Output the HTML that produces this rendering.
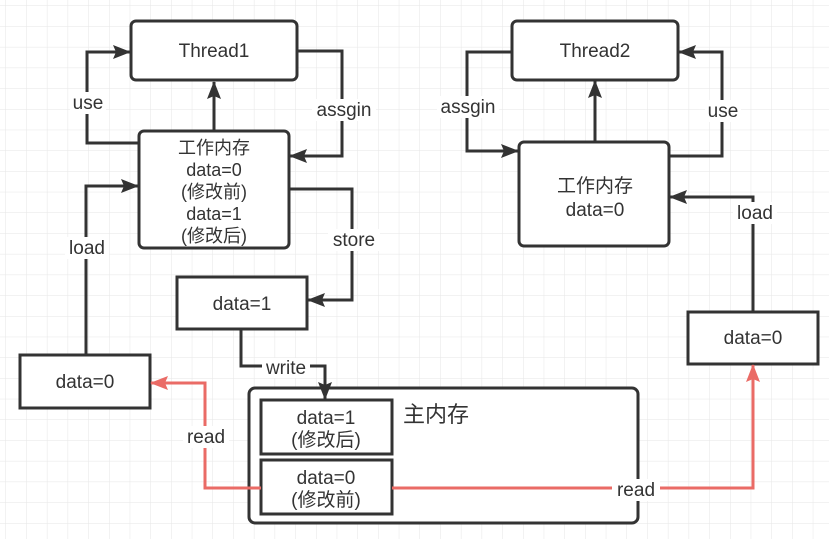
<!DOCTYPE html>
<html><head><meta charset="utf-8"><style>
html,body{margin:0;padding:0;background:#fff;}
svg text{font-family:"Liberation Sans","Noto Sans CJK SC",sans-serif;fill:#333;}
</style></head><body>
<svg width="829" height="539" viewBox="0 0 829 539" xmlns="http://www.w3.org/2000/svg">
<defs>
<pattern id="g" width="20.7" height="20.7" patternUnits="userSpaceOnUse" x="6" y="6">
<path d="M20.7 0V20.7H0" fill="none" stroke="#e6e6e6" stroke-width="1"/>
</pattern>
<marker id="a" markerWidth="18" markerHeight="14" refX="17" refY="7" orient="auto" markerUnits="userSpaceOnUse" viewBox="0 0 18 14"><path d="M0 0L18 7L0 14L3 7Z" fill="#333"/></marker>
<marker id="r" markerWidth="18" markerHeight="14" refX="17" refY="7" orient="auto" markerUnits="userSpaceOnUse" viewBox="0 0 18 14"><path d="M0 0L18 7L0 14L3 7Z" fill="#ea6b66"/></marker>
</defs>
<rect width="829" height="539" fill="url(#g)"/>
<g fill="#fff" stroke="#333" stroke-width="3">
<rect x="131" y="21" width="166" height="59" rx="5"/>
<rect x="139" y="131" width="150" height="117" rx="5"/>
<rect x="177" y="277" width="130" height="52"/>
<rect x="20" y="355" width="130" height="53"/>
<rect x="249" y="388" width="389" height="135" rx="6"/>
<rect x="261" y="400" width="131" height="54"/>
<rect x="261" y="460" width="131" height="54"/>
<rect x="512" y="21" width="166" height="59" rx="5"/>
<rect x="519" y="142" width="150" height="104" rx="5"/>
<rect x="688" y="312" width="130" height="52"/>
</g>
<g fill="none" stroke="#333" stroke-width="3">
<path d="M214 130V82" marker-end="url(#a)"/>
<path d="M139 143H87V52H130" marker-end="url(#a)"/>
<path d="M297 51H342V156H290" marker-end="url(#a)"/>
<path d="M86 355V186H138" marker-end="url(#a)"/>
<path d="M289 189H352V300H308" marker-end="url(#a)"/>
<path d="M241 329V366H325V399" marker-end="url(#a)"/>
<path d="M595 142V81" marker-end="url(#a)"/>
<path d="M512 52H467V151H518" marker-end="url(#a)"/>
<path d="M669 156H722V52H679" marker-end="url(#a)"/>
<path d="M753 312V197H670" marker-end="url(#a)"/>
</g>
<g fill="none" stroke="#ea6b66" stroke-width="3">
<path d="M261 488H205V383H151" marker-end="url(#r)"/>
<path d="M392 488H753V365" marker-end="url(#r)"/>
</g>
<g fill="#fff">
<rect x="70" y="92" width="36" height="22"/>
<rect x="312" y="99" width="64" height="22"/>
<rect x="65" y="237" width="44" height="22"/>
<rect x="328" y="229" width="52" height="22"/>
<rect x="262" y="358" width="48" height="20"/>
<rect x="183" y="426" width="46" height="22"/>
<rect x="612" y="479" width="48" height="22"/>
<rect x="437" y="96" width="62" height="22"/>
<rect x="705" y="100" width="36" height="22"/>
<rect x="733" y="202" width="44" height="22"/>
</g>
<g font-size="19" text-anchor="middle">
<text x="214" y="57">Thread1</text>
<text x="595" y="57">Thread2</text>
<text x="242" y="310">data=1</text>
<text x="85" y="388">data=0</text>
<text x="753" y="344">data=0</text>
<text x="88" y="109">use</text>
<text x="344" y="116">assgin</text>
<text x="87" y="254">load</text>
<text x="354" y="246">store</text>
<text x="286" y="374">write</text>
<text x="206" y="443">read</text>
<text x="636" y="496">read</text>
<text x="468" y="113">assgin</text>
<text x="723" y="117">use</text>
<text x="755" y="219">load</text>
<text x="326" y="424">data=1</text>
<text x="326" y="446">(修改后)</text>
<text x="326" y="484">data=0</text>
<text x="326" y="506">(修改前)</text>
<text x="595" y="192">工作内存</text>
<text x="595" y="216">data=0</text>
</g>
<g font-size="18" text-anchor="middle">
<text x="214" y="154">工作内存</text>
<text x="214" y="176">data=0</text>
<text x="214" y="198">(修改前)</text>
<text x="214" y="220">data=1</text>
<text x="214" y="242">(修改后)</text>
</g>
<text x="403" y="422" font-size="22">主内存</text>
</svg>
</body></html>
